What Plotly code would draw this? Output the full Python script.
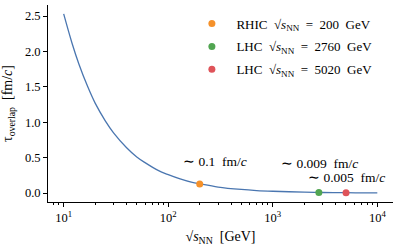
import math
import plotly.graph_objects as go

# curve values
sqrt_s = [10, 12, 14, 17, 20, 25, 30, 40, 50, 60, 80, 100, 130, 170, 200,
          300, 500, 700, 1000, 2000, 3000, 5000, 7000, 10000]
tau = [2.53, 2.12, 1.82, 1.50, 1.27, 1.02, 0.85, 0.64, 0.51, 0.43, 0.32, 0.26,
       0.20, 0.15, 0.13, 0.085, 0.051, 0.036, 0.026, 0.013, 0.0085, 0.005,
       0.0036, 0.0026]

NB = "\u00a0"
point_names = [f"RHIC{NB}{NB}√<i>s</i><sub>NN</sub>{NB}{NB}={NB}{NB}200{NB}{NB}GeV",
               f"LHC{NB}{NB}√<i>s</i><sub>NN</sub>{NB}{NB}={NB}{NB}2760{NB}{NB}GeV",
               f"LHC{NB}{NB}√<i>s</i><sub>NN</sub>{NB}{NB}={NB}{NB}5020{NB}{NB}GeV"]
point_x = [200, 2760, 5020]
point_y = [0.128, 0.009, 0.005]
point_colors = ["#f5912a", "#51a551", "#df5359"]
point_labels = [f"∼{NB}0.1{NB}{NB}fm/<i>c</i>",
                f"∼{NB}0.009{NB}{NB}fm/<i>c</i>",
                f"∼{NB}0.005{NB}{NB}fm/<i>c</i>"]
label_x = [10 ** 2.445, 10 ** 3.45, 10 ** 3.706]
label_y = [0.44, 0.42, 0.226]

y_ticks = [0.0, 0.5, 1.0, 1.5, 2.0, 2.5]
x_ticks = [10, 100, 1000, 10000]
x_ticktext = ["10<sup>1</sup>", "10<sup>2</sup>", "10<sup>3</sup>", "10<sup>4</sup>"]
x_minor = [8, 9, 20, 30, 40, 50, 60, 70, 80, 90,
           200, 300, 400, 500, 600, 700, 800, 900,
           2000, 3000, 4000, 5000, 6000, 7000, 8000, 9000]

FONT = "Liberation Serif"

fig = go.Figure()
fig.add_trace(go.Scatter(x=sqrt_s, y=tau, mode="lines", line=dict(color="#4a76b0", width=1.3),
                         line_shape="spline", showlegend=False, hoverinfo="skip"))
for i, (n, x, y, c) in enumerate(zip(point_names, point_x, point_y, point_colors)):
    fig.add_trace(go.Scatter(x=[x], y=[y], mode="markers", name=n, legendgroup=f"g{i}",
                             marker=dict(color=c, size=7)))

for lab, lx, ly in zip(point_labels, label_x, label_y):
    fig.add_annotation(x=math.log10(lx), y=ly, xref="x", yref="y", text=lab, showarrow=False,
                       font=dict(size=13.5, family=FONT, color="black"))

fig.update_layout(
    width=399, height=246,
    margin=dict(l=48, r=5.5, t=5, b=44),
    paper_bgcolor="white", plot_bgcolor="white",
    font=dict(family=FONT, size=12.5, color="black"),
    legend=dict(x=0.404, y=0.982, xanchor="left", yanchor="top",
                bgcolor="rgba(0,0,0,0)", font=dict(size=13, family=FONT),
                itemwidth=39, tracegroupgap=3),
    xaxis=dict(type="log", range=[0.85, 4.15], showgrid=False, zeroline=False,
               showline=True, linecolor="black", linewidth=1, automargin=False,
               ticks="outside", ticklen=4, tickcolor="black",
               tickvals=x_ticks, ticktext=x_ticktext,
               minor=dict(ticks="outside", ticklen=2, tickcolor="black", tickvals=x_minor),
               title=dict(text=f"√<i>s</i><sub>NN</sub>{NB}{NB}[GeV]", font=dict(size=14, family=FONT))),
    yaxis=dict(range=[-0.126, 2.656], showgrid=False, zeroline=False,
               showline=True, linecolor="black", linewidth=1, automargin=False,
               ticks="outside", ticklen=4, tickcolor="black",
               tickvals=y_ticks, tickformat=".1f",
               title=dict(text=f"τ<sub>overlap</sub>{NB}{NB}[fm/<i>c</i>]", font=dict(size=14, family=FONT))),
)

fig.write_html("out.html", config={"displayModeBar": False},
               post_script="document.body.style.margin='0';document.body.style.padding='0';")
